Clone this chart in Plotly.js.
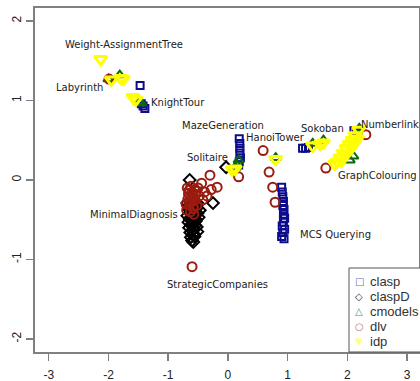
<!DOCTYPE html>
<html>
<head>
<meta charset="utf-8">
<script src="https://cdn.plot.ly/plotly-3.0.1.min.js"></script>
<style>html,body{margin:0;padding:0;background:#fff;}#chart{width:420px;height:381px;}</style>
</head>
<body>
<div id="chart"></div>
<script>
// ---- data ----
var seriesNames = ["clasp", "claspD", "cmodels", "dlv", "idp"];

var claspX = [-1.47, -1.45, -1.42, -1.39, 0.19, 0.2, 0.2, 0.2, 0.21, 0.19, 0.18,
  1.25, 1.3, 1.35, 2.11, 2.15,
  0.9, 0.91, 0.92, 0.93, 0.92, 0.94, 0.93, 0.95, 0.93, 0.91, 0.95, 0.92, 0.9, 0.94];
var claspY = [1.19, 0.96, 0.93, 0.9, 0.52, 0.46, 0.4, 0.34, 0.28, 0.23, 0.19,
  0.4, 0.4, 0.41, 0.62, 0.6,
  -0.09, -0.15, -0.21, -0.27, -0.32, -0.37, -0.43, -0.48, -0.53, -0.58, -0.62, -0.66, -0.71, -0.74];

var claspDX = [-0.03, -0.64, -0.25,
  -0.68, -0.62, -0.56, -0.5, -0.65, -0.59, -0.53, -0.47, -0.68, -0.61, -0.55, -0.49,
  -0.66, -0.6, -0.54, -0.65, -0.58, -0.52, -0.63, -0.57, -0.51, -0.62, -0.56, -0.6, -0.58,
  -0.66, -0.6, -0.54, -0.63, -0.57, -0.51, -0.64, -0.58, -0.53, -0.61, -0.55];
var claspDY = [0.16, 0.0, -0.29,
  -0.29, -0.31, -0.28, -0.3, -0.37, -0.39, -0.36, -0.38, -0.45, -0.46, -0.44, -0.47,
  -0.53, -0.55, -0.52, -0.6, -0.62, -0.59, -0.66, -0.68, -0.65, -0.72, -0.71, -0.76, -0.78,
  -0.33, -0.34, -0.33, -0.41, -0.42, -0.42, -0.49, -0.5, -0.5, -0.57, -0.57];

var cmodelsX = [-2.0, -1.81, -1.49, -1.45, 0.15, 0.12, 0.18, 0.8, 1.42, 1.6, 2.2, 2.04, 2.1];
var cmodelsY = [1.27, 1.32, 0.98, 0.97, 0.19, 0.15, 0.25, 0.28, 0.46, 0.5, 0.65, 0.25, 0.3];

var dlvX = [-1.99, 0.18, -0.3, -0.44, -0.18, -0.39, -0.42, -0.35, -0.28,
  0.59, 0.69, 0.75, 0.79, 2.31, 1.64, -0.6,
  -0.68, -0.62, -0.56, -0.5, -0.66, -0.6, -0.54, -0.48, -0.67, -0.61, -0.55, -0.7, -0.64, -0.58,
  -0.52, -0.69, -0.63, -0.57, -0.65, -0.59, -0.53, -0.64, -0.58];
var dlvY = [1.27, 0.04, 0.06, -0.04, -0.09, -0.15, -0.25, -0.2, -0.12,
  0.37, 0.1, -0.09, -0.28, 0.57, 0.15, -1.09,
  -0.1, -0.08, -0.12, -0.1, -0.17, -0.16, -0.18, -0.2, -0.24, -0.23, -0.25, -0.3, -0.31, -0.33,
  -0.32, -0.38, -0.4, -0.43, -0.13, -0.2, -0.14, -0.27, -0.36];

var idpX = [-2.13, -1.95, -1.79, -1.75, -1.59, -1.54, 0.07, 0.12, 0.8, 1.42, 1.55, 1.6,
  2.19, 2.13, 2.08, 2.03, 1.98, 1.93, 1.88, 1.83, 1.79, 2.17, 2.12, 2.06, 2.0, 1.95, 1.9];
var idpY = [1.52, 1.26, 1.28, 1.27, 1.04, 1.01, 0.13, 0.14, 0.26, 0.43, 0.45, 0.47,
  0.63, 0.56, 0.5, 0.45, 0.4, 0.34, 0.28, 0.23, 0.2, 0.52, 0.46, 0.4, 0.34, 0.3, 0.24];

var labelText = ["Weight-AssignmentTree", "Labyrinth", "KnightTour", "MazeGeneration", "HanoiTower",
  "Solitaire", "Sokoban", "Numberlink", "GraphColouring", "MinimalDiagnosis", "StrategicCompanies", "MCS Querying"];
var labelX = [-1.74, -2.48, -0.84, -0.08, 0.8, -0.34, 1.59, 2.72, 2.51, -1.57, -0.17, 1.81];
var labelY = [1.71, 1.16, 0.97, 0.69, 0.54, 0.28, 0.65, 0.70, 0.06, -0.43, -1.31, -0.69];

var xTickVals = [-3, -2, -1, 0, 1, 2, 3];
var xTickText = ["-3", "-2", "-1", "0", "1", "2", "3"];
var yTickVals = [-2, -1, 0, 1, 2];
var yTickText = ["-2", "-1", "0", "1", "2"];

// ---- traces ----
function pts(name, x, y, sym, col, size, lw) {
  return {name: name, x: x, y: y, type: "scatter", mode: "markers", showlegend: false, hoverinfo: "skip",
    marker: {symbol: sym, size: size, color: col, line: {color: col, width: lw}}};
}
var traces = [
  pts(seriesNames[0], claspX, claspY, "square-open", "#0c0c8c", 7, 2),
  pts(seriesNames[1], claspDX, claspDY, "diamond-open", "#000000", 9, 2),
  pts(seriesNames[2], cmodelsX, cmodelsY, "triangle-up-open", "#0a6a0a", 9, 2),
  pts(seriesNames[3], dlvX, dlvY, "circle-open", "#9a1c10", 9, 2),
  pts(seriesNames[4], idpX, idpY, "triangle-down-open", "#ffff00", 11, 3)
];

var annotations = labelText.map(function (t, i) {
  return {x: labelX[i], y: labelY[i], xref: "x", yref: "y", text: t, showarrow: false,
    font: {family: "DejaVu Sans", size: 10, color: "#222"}};
});

// ---- legend drawn as a box with text (kept inside the plot so the plot area is not shrunk) ----
var legendSymbols = ["□", "◇", "△", "○", "▼"];
var legendColors = ["#6a6ac0", "#333333", "#5a9a5a", "#c07a70", "#ffff80"];
var plotL = 35, plotW = 384, plotB = 352, plotH = 344;
function px2paperX(p) { return (p - plotL) / plotW; }
function px2paperY(p) { return (plotB - p) / plotH; }
var legendRowY = [281, 296, 311, 326, 341];
seriesNames.forEach(function (n, i) {
  annotations.push({xref: "paper", yref: "paper", x: px2paperX(359), y: px2paperY(legendRowY[i]),
    text: legendSymbols[i], showarrow: false, xanchor: "center", yanchor: "middle", borderpad: 0,
    font: {family: "DejaVu Sans", size: 10, color: legendColors[i]}});
  annotations.push({xref: "paper", yref: "paper", x: px2paperX(369), y: px2paperY(legendRowY[i]),
    text: n, showarrow: false, xanchor: "left", yanchor: "middle", borderpad: 0,
    font: {family: "Liberation Sans", size: 13, color: "#333"}});
});
var shapes = [{type: "rect", xref: "paper", yref: "paper",
  x0: px2paperX(349), x1: px2paperX(421), y0: 0, y1: px2paperY(268),
  line: {color: "#555", width: 1}, fillcolor: "#fff", layer: "above"}];

var axisCommon = {showgrid: false, zeroline: false, showline: true, mirror: true,
  linecolor: "#808080", linewidth: 2, ticks: "outside", ticklen: 7, tickwidth: 1.5,
  tickcolor: "#808080", tickmode: "array", automargin: false,
  tickfont: {family: "Liberation Sans", size: 12, color: "#222"}};

var layout = {
  width: 420, height: 381,
  margin: {l: 35, r: 1, t: 8, b: 29},
  paper_bgcolor: "#fff", plot_bgcolor: "#fff",
  xaxis: Object.assign({}, axisCommon, {range: [-3.23, 3.2], tickvals: xTickVals, ticktext: xTickText, ticklabelstandoff: 4}),
  yaxis: Object.assign({}, axisCommon, {range: [-2.164, 2.164], tickvals: yTickVals, ticktext: yTickText, tickangle: -90}),
  showlegend: false,
  annotations: annotations,
  shapes: shapes
};

Plotly.newPlot("chart", traces, layout, {staticPlot: true, displayModeBar: false});
</script>
</body>
</html>
